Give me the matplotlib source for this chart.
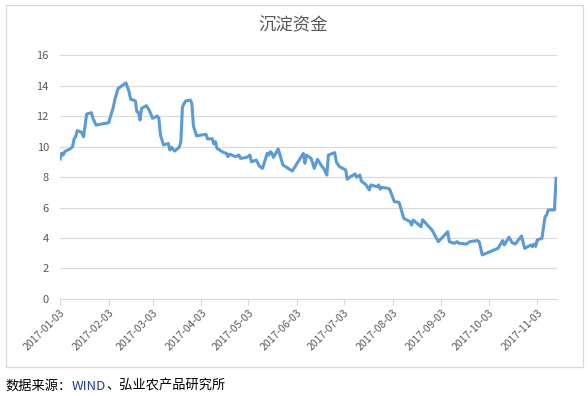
import pandas as pd
import matplotlib
matplotlib.use("Agg")
import matplotlib.pyplot as plt
import matplotlib.dates as mdates
from matplotlib.patches import Rectangle

plt.rcParams['font.family'] = ['Noto Sans CJK SC', 'DejaVu Sans']

# 沉淀资金（亿元），读图估计
dates = [
    '2017-01-03', '2017-01-04', '2017-01-05', '2017-01-06', '2017-01-07', '2017-01-10',
    '2017-01-11', '2017-01-12', '2017-01-13', '2017-01-14', '2017-01-16', '2017-01-17',
    '2017-01-18', '2017-01-19', '2017-01-20', '2017-01-23', '2017-01-24', '2017-01-26',
    '2017-02-03', '2017-02-06', '2017-02-07', '2017-02-09', '2017-02-14', '2017-02-16',
    '2017-02-17', '2017-02-20', '2017-02-21', '2017-02-22', '2017-02-23', '2017-02-24',
    '2017-02-27', '2017-03-01', '2017-03-03', '2017-03-06', '2017-03-07', '2017-03-08',
    '2017-03-10', '2017-03-13', '2017-03-14', '2017-03-15', '2017-03-17', '2017-03-20',
    '2017-03-21', '2017-03-22', '2017-03-24', '2017-03-27', '2017-03-28', '2017-03-29',
    '2017-03-31', '2017-04-06', '2017-04-07', '2017-04-10', '2017-04-11', '2017-04-12',
    '2017-04-13', '2017-04-17', '2017-04-19', '2017-04-20', '2017-04-21', '2017-04-25',
    '2017-04-27', '2017-04-28', '2017-05-02', '2017-05-04', '2017-05-05', '2017-05-08',
    '2017-05-10', '2017-05-12', '2017-05-15', '2017-05-16', '2017-05-17', '2017-05-18',
    '2017-05-19', '2017-05-22', '2017-05-25', '2017-05-31', '2017-06-05', '2017-06-07',
    '2017-06-08', '2017-06-09', '2017-06-12', '2017-06-14', '2017-06-16', '2017-06-19',
    '2017-06-20', '2017-06-22', '2017-06-23', '2017-06-27', '2017-06-28', '2017-06-30',
    '2017-07-04', '2017-07-05', '2017-07-07', '2017-07-10', '2017-07-11', '2017-07-13',
    '2017-07-14', '2017-07-17', '2017-07-19', '2017-07-20', '2017-07-24', '2017-07-25',
    '2017-07-26', '2017-07-27', '2017-07-31', '2017-08-01', '2017-08-04', '2017-08-07',
    '2017-08-10', '2017-08-14', '2017-08-15', '2017-08-16', '2017-08-21', '2017-08-22',
    '2017-08-25', '2017-08-28', '2017-09-01', '2017-09-07', '2017-09-08', '2017-09-11',
    '2017-09-13', '2017-09-14', '2017-09-19', '2017-09-21', '2017-09-26', '2017-09-27',
    '2017-09-29', '2017-10-09', '2017-10-12', '2017-10-13', '2017-10-16', '2017-10-18',
    '2017-10-20', '2017-10-24', '2017-10-26', '2017-10-30', '2017-10-31', '2017-11-01',
    '2017-11-02', '2017-11-03', '2017-11-06', '2017-11-08', '2017-11-09', '2017-11-10',
    '2017-11-14', '2017-11-15',
]
values = [
    9.18, 9.55, 9.44, 9.66, 9.72, 9.88,
    10.0, 10.5, 10.64, 11.04, 10.97, 10.9,
    10.64, 11.4, 12.13, 12.22, 11.85, 11.41,
    11.56, 12.6, 13.1, 13.8, 14.18, 13.6,
    13.1, 13.0, 12.28, 12.22, 11.74, 12.5,
    12.68, 12.35, 11.85, 12.0, 11.85, 10.75,
    10.1, 10.2, 9.77, 9.95, 9.7, 9.95,
    10.32, 12.6, 12.98, 13.05, 12.83, 11.34,
    10.7, 10.8, 10.5, 10.51, 10.16, 10.32,
    9.88, 9.62, 9.55, 9.33, 9.5, 9.33,
    9.44, 9.22, 9.29, 9.44, 9.0, 9.11,
    8.72, 8.57, 9.55, 9.44, 9.66, 9.55,
    9.29, 9.84, 8.79, 8.39, 9.22, 9.55,
    8.9, 9.44, 9.22, 8.57, 9.16, 8.68,
    8.57, 8.13, 9.44, 9.6, 9.0, 8.68,
    8.46, 7.85, 8.02, 8.2, 7.98, 8.13,
    7.74, 7.48, 7.15, 7.48, 7.36, 7.48,
    7.2, 7.32, 7.26, 7.2, 6.38, 6.34,
    5.29, 5.07, 4.85, 5.18, 4.74, 5.2,
    4.85, 4.52, 3.76, 4.41, 3.76, 3.65,
    3.76, 3.66, 3.6, 3.76, 3.83, 3.76,
    2.89, 3.32, 3.83, 3.54, 4.05, 3.7,
    3.6, 4.13, 3.32, 3.54, 3.43, 3.6,
    3.45, 3.87, 3.98, 5.4, 5.5, 5.84,
    5.84, 7.91,
]
tick_dates = ['2017-01-03', '2017-02-03', '2017-03-03', '2017-04-03', '2017-05-03',
              '2017-06-03', '2017-07-03', '2017-08-03', '2017-09-03', '2017-10-03',
              '2017-11-03']
y_ticks = [0, 2, 4, 6, 8, 10, 12, 14, 16]

x = pd.to_datetime(dates)
xt = pd.to_datetime(tick_dates)

fig = plt.figure(figsize=(5.88, 3.96), dpi=100)
fig.patches.append(Rectangle((0.0102, 0.0735), 0.981, 0.915, transform=fig.transFigure,
                             fill=False, edgecolor='#d9d9d9', linewidth=0.9))

ax = fig.add_axes([0.102, 0.245, 0.845, 0.616])
ax.plot(x, values, color='#5b9bd5', linewidth=2.2, solid_joinstyle='round')

ax.set_ylim(0, 16)
ax.set_yticks(y_ticks)
ax.set_xlim(pd.Timestamp('2017-01-03'), pd.Timestamp('2017-11-15 12:00'))
ax.set_xticks(xt)
ax.xaxis.set_major_formatter(mdates.DateFormatter('%Y-%m-%d'))
ax.grid(axis='y', color='#d9d9d9', linewidth=0.8)
ax.set_axisbelow(True)
for s in ['top', 'right', 'left']:
    ax.spines[s].set_visible(False)
ax.spines['bottom'].set_color('#d9d9d9')
ax.spines['bottom'].set_linewidth(0.8)
ax.tick_params(axis='y', length=0, pad=8, labelsize=8, labelcolor='#595959')
ax.tick_params(axis='x', length=4, color='#d9d9d9', width=0.8, pad=2,
               labelsize=7.5, labelcolor='#595959')
for lab in ax.get_xticklabels():
    lab.set_rotation(45)
    lab.set_ha('right')
    lab.set_va('top')
    lab.set_rotation_mode('anchor')

fig.text(0.498, 0.937, '沉淀资金', ha='center', va='center', fontsize=12.5, color='#595959')

# 数据来源，WIND 为蓝色
parts = [('数据来源：', 'black'), ('WIND', '#1f3f8f'), ('、弘业农产品研究所', 'black')]
fig.canvas.draw()
renderer = fig.canvas.get_renderer()
xpos = 0.01
for txt, col in parts:
    t = fig.text(xpos, 0.025, txt, ha='left', va='center', fontsize=9.5, color=col)
    bb = t.get_window_extent(renderer=renderer)
    xpos = fig.transFigure.inverted().transform((bb.x1, bb.y0))[0]

fig.savefig('out.png', dpi=100)
